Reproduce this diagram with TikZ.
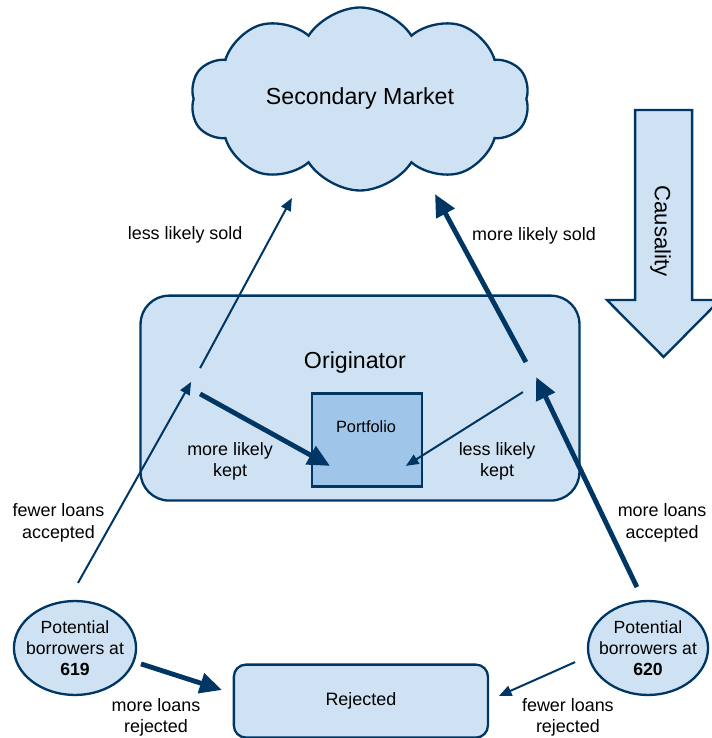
\documentclass[tikz,border=0pt]{standalone}
\usepackage{fontspec}
\setmainfont{Liberation Sans}
\usetikzlibrary{shapes.symbols,shapes.geometric,arrows.meta}

\definecolor{navy}{RGB}{0,54,100}
\definecolor{paleblue}{RGB}{207,226,243}
\definecolor{midblue}{RGB}{159,197,232}

\tikzset{
  box/.style={draw=navy, line width=2.2pt, fill=paleblue},
  thinarrow/.style={draw=navy, line width=1.9pt, -{Triangle[length=12pt,width=10pt]}},
  thickarrow/.style={draw=navy, line width=4.6pt, -{Triangle[length=21pt,width=19pt]}},
  lbl/.style={align=center, font=\fontsize{17}{20}\selectfont},
  bigtxt/.style={font=\fontsize{22}{26}\selectfont},
}

\begin{document}
\begin{tikzpicture}
    \useasboundingbox (0,0) rectangle (23.7,24.6);

    % Nodos
    \node[box, cloud, cloud puffs=10, cloud puff arc=115, aspect=2,
          minimum width=11.3cm, minimum height=6.1cm, bigtxt] (market) at (12.0,21.3) {Secondary Market};

    \node[box, rounded corners=0.95cm, minimum width=14.63cm, minimum height=6.83cm] (orig) at (12.0,11.33) {};
    \node[bigtxt] (origtxt) at (11.83,12.5) {Originator};
    \node[box, fill=midblue, minimum width=3.67cm, minimum height=3.1cm] (port) at (12.23,9.93) {};
    \node[font=\fontsize{15.5}{18}\selectfont] (porttxt) at (12.2,10.37) {Portfolio};

    \node[box, rounded corners=0.4cm, minimum width=8.47cm, minimum height=2.43cm,
          font=\fontsize{17}{20}\selectfont] (rej) at (12.03,1.23) {Rejected};

    \node[box, ellipse, minimum width=4.07cm, minimum height=3.13cm] (b619) at (2.5,3.0) {};
    \node[align=center, font=\fontsize{16.7}{20}\selectfont] (t619) at (b619) {Potential\\borrowers at\\\textbf{619}};
    \node[box, ellipse, minimum width=4.0cm, minimum height=3.13cm] (b620) at (21.6,3.0) {};
    \node[align=center, font=\fontsize{16.7}{20}\selectfont] (t620) at (b620) {Potential\\borrowers at\\\textbf{620}};

    % Causalidad
    \draw[box] (21.17,20.93) -- (23.07,20.93) -- (23.07,14.6) -- (24.0,14.6)
        -- (22.12,12.7) -- (20.23,14.6) -- (21.17,14.6) -- cycle;
    \node[rotate=-90, font=\fontsize{21}{24}\selectfont] (caus) at (22.02,16.9) {Causality};

    % Puntos
    \coordinate (acc619a) at (2.6,5.17);   \coordinate (acc619b) at (6.37,11.87);
    \coordinate (sold619a) at (6.67,12.33); \coordinate (sold619b) at (9.73,18.0);
    \coordinate (kept619a) at (6.67,11.47); \coordinate (kept619b) at (11.0,9.07);
    \coordinate (kept620a) at (17.43,11.53); \coordinate (kept620b) at (13.53,9.07);
    \coordinate (acc620a) at (21.23,5.03); \coordinate (acc620b) at (17.87,12.03);
    \coordinate (sold620a) at (17.53,12.53); \coordinate (sold620b) at (14.5,18.13);
    \coordinate (rej619a) at (4.7,2.47);   \coordinate (rej619b) at (7.4,1.6);
    \coordinate (rej620a) at (19.17,2.53); \coordinate (rej620b) at (16.63,1.4);

    % Flechas
    \draw[thinarrow] (acc619a) -- (acc619b);
    \draw[thinarrow] (sold619a) -- (sold619b);
    \draw[thickarrow] (kept619a) -- (kept619b);
    \draw[thinarrow] (kept620a) -- (kept620b);
    \draw[thickarrow] (acc620a) -- (acc620b);
    \draw[thickarrow] (sold620a) -- (sold620b);
    \draw[thickarrow] (rej619a) -- (rej619b);
    \draw[thinarrow] (rej620a) -- (rej620b);

    % Etiquetas
    \node[lbl] (lsold) at (6.17,16.77) {less likely sold};
    \node[lbl] (msold) at (17.8,16.73) {more likely sold};
    \node[lbl] (mkept) at (7.67,9.23) {more likely\\kept};
    \node[lbl] (lkept) at (16.57,9.23) {less likely\\kept};
    \node[lbl] (facc) at (1.95,7.17) {fewer loans\\accepted};
    \node[lbl] (macc) at (22.07,7.17) {more loans\\accepted};
    \node[lbl] (mrej) at (5.2,0.7) {more loans\\rejected};
    \node[lbl] (frej) at (18.93,0.7) {fewer loans\\rejected};

\end{tikzpicture}
\end{document}
